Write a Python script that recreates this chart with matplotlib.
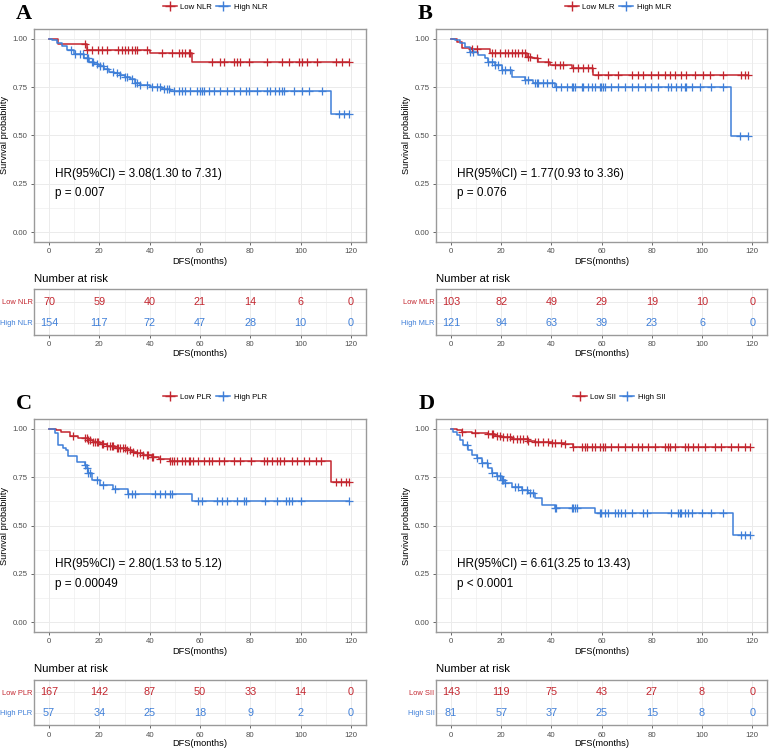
import numpy as np
import matplotlib
matplotlib.use("Agg")
import matplotlib.pyplot as plt
from matplotlib.lines import Line2D
from matplotlib.ticker import MultipleLocator

plt.rcParams['font.family'] = ['Liberation Sans', 'DejaVu Sans']

RED = '#C3262F'
BLUE = '#3F7FD8'
GRID = '#EBEBEB'
BORDER = '#9A9A9A'
TICKCOL = '#4D4D4D'

x_ticks = [0, 20, 40, 60, 80, 100, 120]

# ---------------- A: NLR ----------------
nlr_groups = ["Low NLR", "High NLR"]
nlr_low_t = [3.6, 15.0, 40.0, 57.0]
nlr_low_s = [0.974, 0.943, 0.924, 0.878]
nlr_low_c = [14.2, 15.2, 16.9, 19.5, 20.9, 23.1, 27.5, 28.9, 30.2, 31.5, 32.8, 34.2, 34.8,
             38.8, 44.8, 48.8, 51.5, 52.8, 54.1, 55.5, 56.1, 64.8, 68.1, 69.4, 73.4, 74.7,
             76.1, 79.4, 86.7, 92.7, 95.3, 99.3, 100.6, 102.7, 106.6, 114.0, 116.6, 119.3]
nlr_high_t = [1, 3, 5, 7, 10, 14, 16, 18, 20, 22, 24, 26, 28, 30, 32, 34, 36, 40, 45, 48, 112]
nlr_high_s = [0.994, 0.98, 0.96, 0.94, 0.92, 0.90, 0.88, 0.87, 0.86, 0.845, 0.83, 0.82, 0.81,
              0.80, 0.79, 0.77, 0.76, 0.75, 0.74, 0.73, 0.61]
nlr_high_c = [8.9, 10.2, 12.2, 13.6, 14.9, 15.6, 16.9, 17.6, 18.9, 20.2, 21.5, 22.9, 25.5, 26.9,
              28.2, 30.2, 30.9, 32.8, 34.2, 34.8, 36.2, 38.8, 40.8, 42.8, 44.1, 45.5, 46.8, 47.5,
              49.5, 51.5, 52.8, 54.1, 56.1, 58.8, 60.1, 60.8, 61.4, 63.4, 65.4, 68.1, 70.7, 73.4,
              76.1, 78.1, 79.4, 82.7, 86.7, 88.0, 90.0, 91.4, 92.7, 93.4, 97.3, 100.6, 103.3,
              108.6, 115.3, 117.3, 119.3]
nlr_risk_low = [70, 59, 40, 21, 14, 6, 0]
nlr_risk_high = [154, 117, 72, 47, 28, 10, 0]
nlr_hr = "HR(95%CI) = 3.08(1.30 to 7.31)"
nlr_p = "p = 0.007"

# ---------------- B: MLR ----------------
mlr_groups = ["Low MLR", "High MLR"]
mlr_low_t = [2.3, 4.2, 8.5, 15.5, 30.1, 32.1, 34.7, 39.4, 48.0, 56.6]
mlr_low_s = [0.984, 0.953, 0.945, 0.928, 0.907, 0.898, 0.881, 0.864, 0.847, 0.814]
mlr_low_c = [8.5, 10.2, 16.2, 17.5, 19.5, 21.5, 22.8, 24.1, 25.5, 26.8, 28.1, 29.4, 30.8, 31.4,
             34.1, 38.7, 41.4, 43.4, 44.7, 48.7, 50.7, 52.7, 54.6, 56.0, 58.6, 62.6, 66.6, 71.9,
             74.5, 76.5, 79.8, 82.5, 85.1, 87.1, 89.1, 91.8, 93.8, 97.1, 100.4, 103.0, 108.4,
             115.6, 117.0, 118.3]
mlr_high_t = [1.6, 3.6, 5.6, 7.6, 10.9, 13.5, 14.9, 17.5, 20.2, 24.1, 29.4, 32.8, 41.4, 111.7]
mlr_high_s = [0.993, 0.976, 0.959, 0.933, 0.916, 0.898, 0.881, 0.864, 0.838, 0.803, 0.786,
              0.769, 0.748, 0.498]
mlr_high_c = [7.6, 8.9, 14.9, 16.2, 17.5, 18.8, 20.2, 21.5, 23.5, 29.4, 30.8, 33.4, 34.1, 34.7,
              36.7, 38.1, 40.1, 42.0, 44.0, 46.0, 48.0, 48.7, 49.3, 52.0, 52.7, 54.6, 56.0, 57.3,
              59.3, 59.9, 60.6, 61.3, 63.9, 66.6, 69.2, 71.9, 74.5, 77.2, 79.8, 82.5, 86.5, 87.8,
              89.8, 91.8, 93.1, 93.8, 95.8, 99.1, 103.7, 108.4, 115.0, 118.3]
mlr_risk_low = [103, 82, 49, 29, 19, 10, 0]
mlr_risk_high = [121, 94, 63, 39, 23, 6, 0]
mlr_hr = "HR(95%CI) = 1.77(0.93 to 3.36)"
mlr_p = "p = 0.076"

# ---------------- C: PLR ----------------
plr_groups = ["Low PLR", "High PLR"]
plr_low_t = [2.9, 4.9, 8.2, 11.6, 15.6, 17.6, 20.2, 22.9, 26.2, 30.9, 32.8, 34.8, 37.5, 40.8,
             43.5, 48.1, 112.0]
plr_low_s = [0.995, 0.983, 0.964, 0.952, 0.943, 0.934, 0.922, 0.914, 0.903, 0.891, 0.883,
             0.874, 0.866, 0.853, 0.843, 0.834, 0.728]
plr_low_c = [9.6, 14.2, 14.9, 15.6, 16.2, 17.6, 18.2, 18.9, 19.5, 20.9, 21.5, 22.9, 24.2, 24.9,
             25.5, 26.9, 27.5, 28.2, 29.5, 30.2, 30.9, 32.2, 33.5, 34.8, 36.2, 37.5, 38.8, 39.5,
             40.8, 41.5, 44.1, 48.1, 48.8, 49.5, 50.8, 52.8, 54.1, 55.5, 56.1, 57.4, 59.4, 61.4,
             63.4, 64.8, 67.4, 69.4, 73.4, 76.1, 80.1, 85.4, 86.7, 88.7, 90.7, 92.0, 93.4, 96.7,
             98.7, 101.3, 103.3, 106.0, 108.0, 114.0, 116.0, 118.0, 119.3]
plr_high_t = [2.3, 3.6, 5.6, 6.9, 7.6, 10.9, 14.2, 14.9, 15.6, 16.9, 20.2, 25.5, 31.5, 56.8]
plr_high_s = [0.978, 0.917, 0.900, 0.891, 0.860, 0.831, 0.814, 0.797, 0.771, 0.736, 0.710,
              0.688, 0.662, 0.629]
plr_high_c = [14.2, 14.9, 15.6, 16.2, 18.9, 21.5, 26.2, 31.5, 32.8, 34.2, 42.2, 44.1, 46.1,
              48.1, 48.8, 59.4, 60.8, 66.8, 68.8, 70.7, 74.7, 77.4, 78.1, 86.0, 90.7, 94.0,
              95.3, 96.7, 100.0, 119.3]
plr_risk_low = [167, 142, 87, 50, 33, 14, 0]
plr_risk_high = [57, 34, 25, 18, 9, 2, 0]
plr_hr = "HR(95%CI) = 2.80(1.53 to 5.12)"
plr_p = "p = 0.00049"

# ---------------- D: SII ----------------
sii_groups = ["Low SII", "High SII"]
sii_low_t = [2.3, 4.2, 8.2, 14.9, 17.5, 20.2, 24.1, 30.8, 33.4, 40.1, 45.4, 48.7]
sii_low_s = [0.995, 0.986, 0.981, 0.974, 0.964, 0.957, 0.948, 0.940, 0.934, 0.929, 0.922, 0.909]
sii_low_c = [4.2, 9.5, 14.9, 16.2, 16.8, 18.2, 19.5, 20.8, 22.1, 23.5, 24.8, 26.1, 27.5, 28.8,
             30.1, 30.8, 33.4, 34.7, 36.7, 38.7, 40.1, 41.4, 44.0, 45.4, 48.7, 52.0, 53.3, 54.0,
             56.0, 57.3, 59.3, 60.6, 61.3, 63.9, 66.6, 69.2, 71.9, 74.5, 75.9, 78.5, 81.2, 85.1,
             86.5, 87.1, 89.1, 93.1, 94.4, 96.4, 98.4, 101.1, 105.0, 107.7, 111.7, 114.3, 117.0,
             119.0]
sii_high_t = [0.9, 2.3, 3.6, 4.9, 6.9, 8.2, 10.2, 12.2, 14.9, 16.2, 18.2, 20.2, 21.5, 24.1,
              28.1, 30.8, 33.4, 36.1, 41.4, 57.3, 112.3]
sii_high_s = [0.986, 0.969, 0.943, 0.917, 0.891, 0.866, 0.848, 0.822, 0.797, 0.774, 0.757,
              0.736, 0.719, 0.698, 0.684, 0.667, 0.641, 0.607, 0.590, 0.567, 0.450]
sii_high_c = [6.2, 10.2, 12.2, 14.2, 16.2, 18.2, 19.5, 20.2, 20.8, 21.5, 25.5, 26.8, 28.1, 30.1,
              31.4, 32.8, 41.4, 42.0, 48.0, 48.7, 49.3, 50.0, 59.3, 59.9, 61.3, 62.6, 65.3, 66.6,
              67.9, 69.2, 71.9, 76.5, 77.9, 87.8, 90.4, 91.1, 91.8, 93.1, 94.4, 95.8, 100.1,
              103.4, 108.4, 115.6, 117.0, 119.0]
sii_risk_low = [143, 119, 75, 43, 27, 8, 0]
sii_risk_high = [81, 57, 37, 25, 15, 8, 0]
sii_hr = "HR(95%CI) = 6.61(3.25 to 13.43)"
sii_p = "p < 0.0001"

W, H = 769, 748
fig = plt.figure(figsize=(W / 100, H / 100), dpi=100)


def px_rect(left, top, width, height):
    return [left / W, 1 - (top + height) / H, width / W, height / H]


def style_axes(ax, labelpad):
    for sp in ax.spines.values():
        sp.set_color(BORDER)
        sp.set_linewidth(1.0)
    ax.tick_params(colors=TICKCOL, labelsize=5.6, length=2.5, width=0.6, pad=2)
    ax.tick_params(axis='both', which='minor', length=0)
    ax.set_xlim(-6, 126)
    ax.xaxis.set_major_locator(plt.FixedLocator(x_ticks))
    ax.xaxis.set_minor_locator(MultipleLocator(10))
    ax.grid(True, which='major', color=GRID, lw=0.7)
    ax.grid(True, which='minor', color=GRID, lw=0.4)
    ax.set_axisbelow(True)
    ax.set_xlabel("DFS(months)", fontsize=6.7, labelpad=labelpad)


def km_line(ax, ev_t, ev_s, cens, color):
    t_end = max(cens + ev_t)
    t = [0] + ev_t + [t_end]
    s = [1.0] + ev_s + [ev_s[-1]]
    ax.step(t, s, where='post', color=color, lw=1.1, zorder=3)
    idx = np.searchsorted(ev_t, cens, side='right')
    cy = np.array([1.0] + ev_s)[idx]
    ax.plot(cens, cy, ls='none', marker='+', ms=5.5, mew=0.9, color=color, zorder=4)


def panel(left, top, width, letter, letter_x, legend_x, groups, lo, hi, risk_lo, risk_hi, hr, p):
    ax = fig.add_axes(px_rect(left, top, width, 212.7))
    km_line(ax, lo[0], lo[1], lo[2], RED)
    km_line(ax, hi[0], hi[1], hi[2], BLUE)
    style_axes(ax, 1.5)
    ax.set_ylim(-0.05, 1.05)
    ax.yaxis.set_major_locator(MultipleLocator(0.25))
    ax.yaxis.set_minor_locator(MultipleLocator(0.125))
    ax.set_yticklabels([f"{v:.2f}" for v in ax.get_yticks()])
    ax.set_ylabel("Survival probability", fontsize=6.7, labelpad=3)
    ax.text(2.3, 0.30, hr, fontsize=8.5, ha='left', va='center')
    ax.text(2.3, 0.20, p, fontsize=8.5, ha='left', va='center')

    handles = [Line2D([0], [0], color=RED, marker='+', lw=1.1, ms=6.5),
               Line2D([0], [0], color=BLUE, marker='+', lw=1.1, ms=6.5)]
    fig.legend(handles, groups, loc='center', ncol=2, frameon=False, fontsize=5.6,
               bbox_to_anchor=(legend_x / W, 1 - (top - 22) / H),
               handlelength=1.8, columnspacing=0.6, handletextpad=0.4)
    fig.text(letter_x / W, 1 - (top - 15) / H, letter, family='Liberation Serif',
             fontweight='bold', fontsize=16, ha='center', va='center')

    rx = fig.add_axes(px_rect(left, top + 260.3, width, 45.7))
    style_axes(rx, 0.3)
    rx.set_ylim(-0.6, 1.6)
    rx.set_yticks([1, 0])
    rx.set_yticklabels(groups, fontsize=5.4)
    rx.tick_params(axis='y', length=0, pad=1)
    for lab, c in zip(rx.get_yticklabels(), [RED, BLUE]):
        lab.set_color(c)
    for x, a, b in zip(x_ticks, risk_lo, risk_hi):
        rx.text(x, 1, str(a), color=RED, fontsize=7.8, ha='center', va='center')
        rx.text(x, 0, str(b), color=BLUE, fontsize=7.8, ha='center', va='center')
    rx.set_title("Number at risk", loc='left', fontsize=8.2, pad=5.5)


panel(34, 29, 332, "A", 24, 215, nlr_groups,
      (nlr_low_t, nlr_low_s, nlr_low_c), (nlr_high_t, nlr_high_s, nlr_high_c),
      nlr_risk_low, nlr_risk_high, nlr_hr, nlr_p)
panel(436, 29, 331.3, "B", 425, 618, mlr_groups,
      (mlr_low_t, mlr_low_s, mlr_low_c), (mlr_high_t, mlr_high_s, mlr_high_c),
      mlr_risk_low, mlr_risk_high, mlr_hr, mlr_p)
panel(34, 419.3, 332, "C", 24, 215, plr_groups,
      (plr_low_t, plr_low_s, plr_low_c), (plr_high_t, plr_high_s, plr_high_c),
      plr_risk_low, plr_risk_high, plr_hr, plr_p)
panel(436, 419.3, 331.3, "D", 427, 619, sii_groups,
      (sii_low_t, sii_low_s, sii_low_c), (sii_high_t, sii_high_s, sii_high_c),
      sii_risk_low, sii_risk_high, sii_hr, sii_p)

fig.savefig("out.png", dpi=100)
